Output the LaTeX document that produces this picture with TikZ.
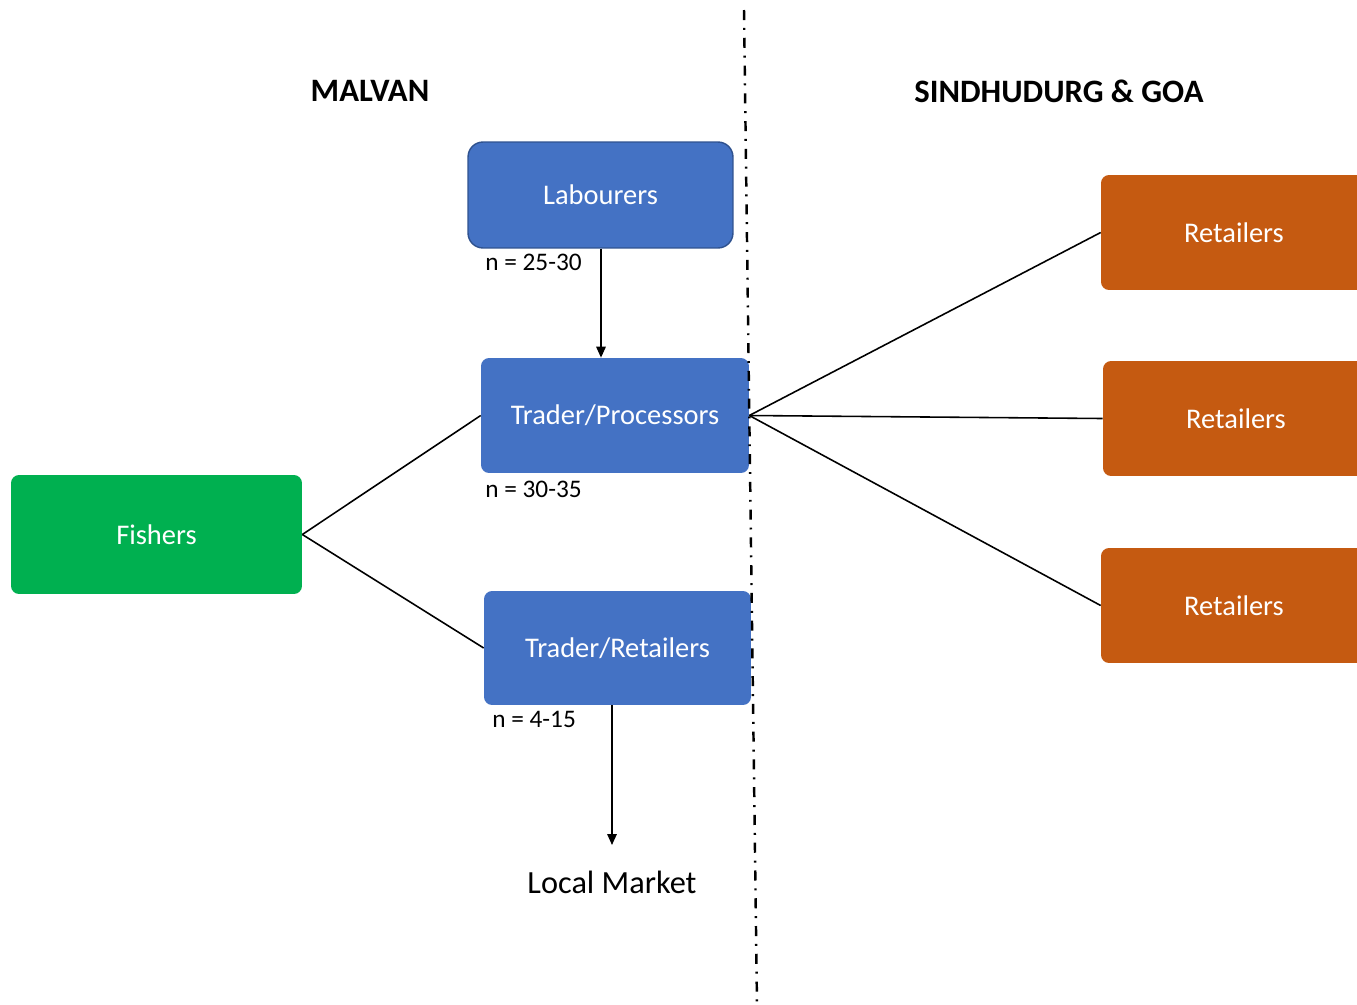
\documentclass[tikz,border=0pt]{standalone}
\usepackage{fontspec}
\setmainfont{Carlito}
\usetikzlibrary{arrows.meta}
\definecolor{bluebox}{HTML}{4472C4}
\definecolor{blueedge}{HTML}{2F528F}
\definecolor{greenbox}{HTML}{00B050}
\definecolor{orangebox}{HTML}{C55A11}
\tikzset{
  px/.style={x=0.02cm,y=-0.02cm},
  boxbase/.style={rounded corners=0.16cm, text=white, font=\fontsize{16.2}{19}\selectfont, inner sep=0pt},
  bluebx/.style={boxbase, fill=bluebox},
  greenbx/.style={boxbase, fill=greenbox},
  orangebx/.style={boxbase, fill=orangebox},
  conn/.style={line width=0.9pt, black},
  arr/.style={conn, -{Triangle[length=0.22cm,width=0.19cm]}},
  nlabel/.style={font=\fontsize{14.4}{17}\selectfont, anchor=west, inner sep=0pt},
  header/.style={font=\bfseries\fontsize{18.6}{22}\selectfont, inner sep=0pt},
  divider/.style={line width=1.4pt, dash pattern=on 5.7pt off 4.5pt on 1.1pt off 4.5pt}
}
\begin{document}
\begin{tikzpicture}[px]
\useasboundingbox (0,0) rectangle (1357,1005);
\clip (0,0) rectangle (1357,1005);
% boxes
\node[bluebx, draw=blueedge, line width=0.8pt, rounded corners=0.3cm, minimum width=5.3cm, minimum height=2.12cm] (lab) at (600.5,195) {Labourers};
\node[bluebx, minimum width=5.36cm, minimum height=2.3cm] (tp) at (615,415.5) {Trader/Processors};
\node[bluebx, minimum width=5.34cm, minimum height=2.28cm] (tr) at (617.5,648) {Trader/Retailers};
\node[greenbx, minimum width=5.82cm, minimum height=2.38cm] (fish) at (156.5,534.5) {Fishers};
\node[orangebx, minimum width=5.32cm, minimum height=2.3cm] (r1) at (1234,232.5) {Retailers};
\node[orangebx, minimum width=5.32cm, minimum height=2.3cm] (r2) at (1236,418.5) {Retailers};
\node[orangebx, minimum width=5.32cm, minimum height=2.3cm] (r3) at (1234,605.5) {Retailers};
% headers
\node[header] (malvan) at (370,91) {MALVAN};
\node[header] (sg) at (1059,91) {SINDHUDURG \& GOA};
% labels
\node[nlabel] (n1) at (485,262) {n = 25-30};
\node[nlabel] (n2) at (485,489) {n = 30-35};
\node[nlabel] (n3) at (492,719) {n = 4-15};
\node[font=\fontsize{18.4}{22}\selectfont, inner sep=0pt] (lm) at (612,882) {Local Market};
\coordinate (lmtop) at (612,845);
% connectors
\draw[conn] (fish.east) -- (tp.west);
\draw[conn] (fish.east) -- (tr.west);
\draw[arr] (lab.south -| 601,0) -- (tp.north -| 601,0);
\draw[arr] (tr.south -| 612,0) -- (lmtop);
\draw[conn] (tp.east) -- (r1.west);
\draw[conn] (tp.east) -- (r2.west);
\draw[conn] (tp.east) -- (r3.west);
% divider
\coordinate (dtop) at (744,10);
\coordinate (dbot) at (757,1005);
\draw[divider] (dtop) -- (dbot);
\end{tikzpicture}
\end{document}
